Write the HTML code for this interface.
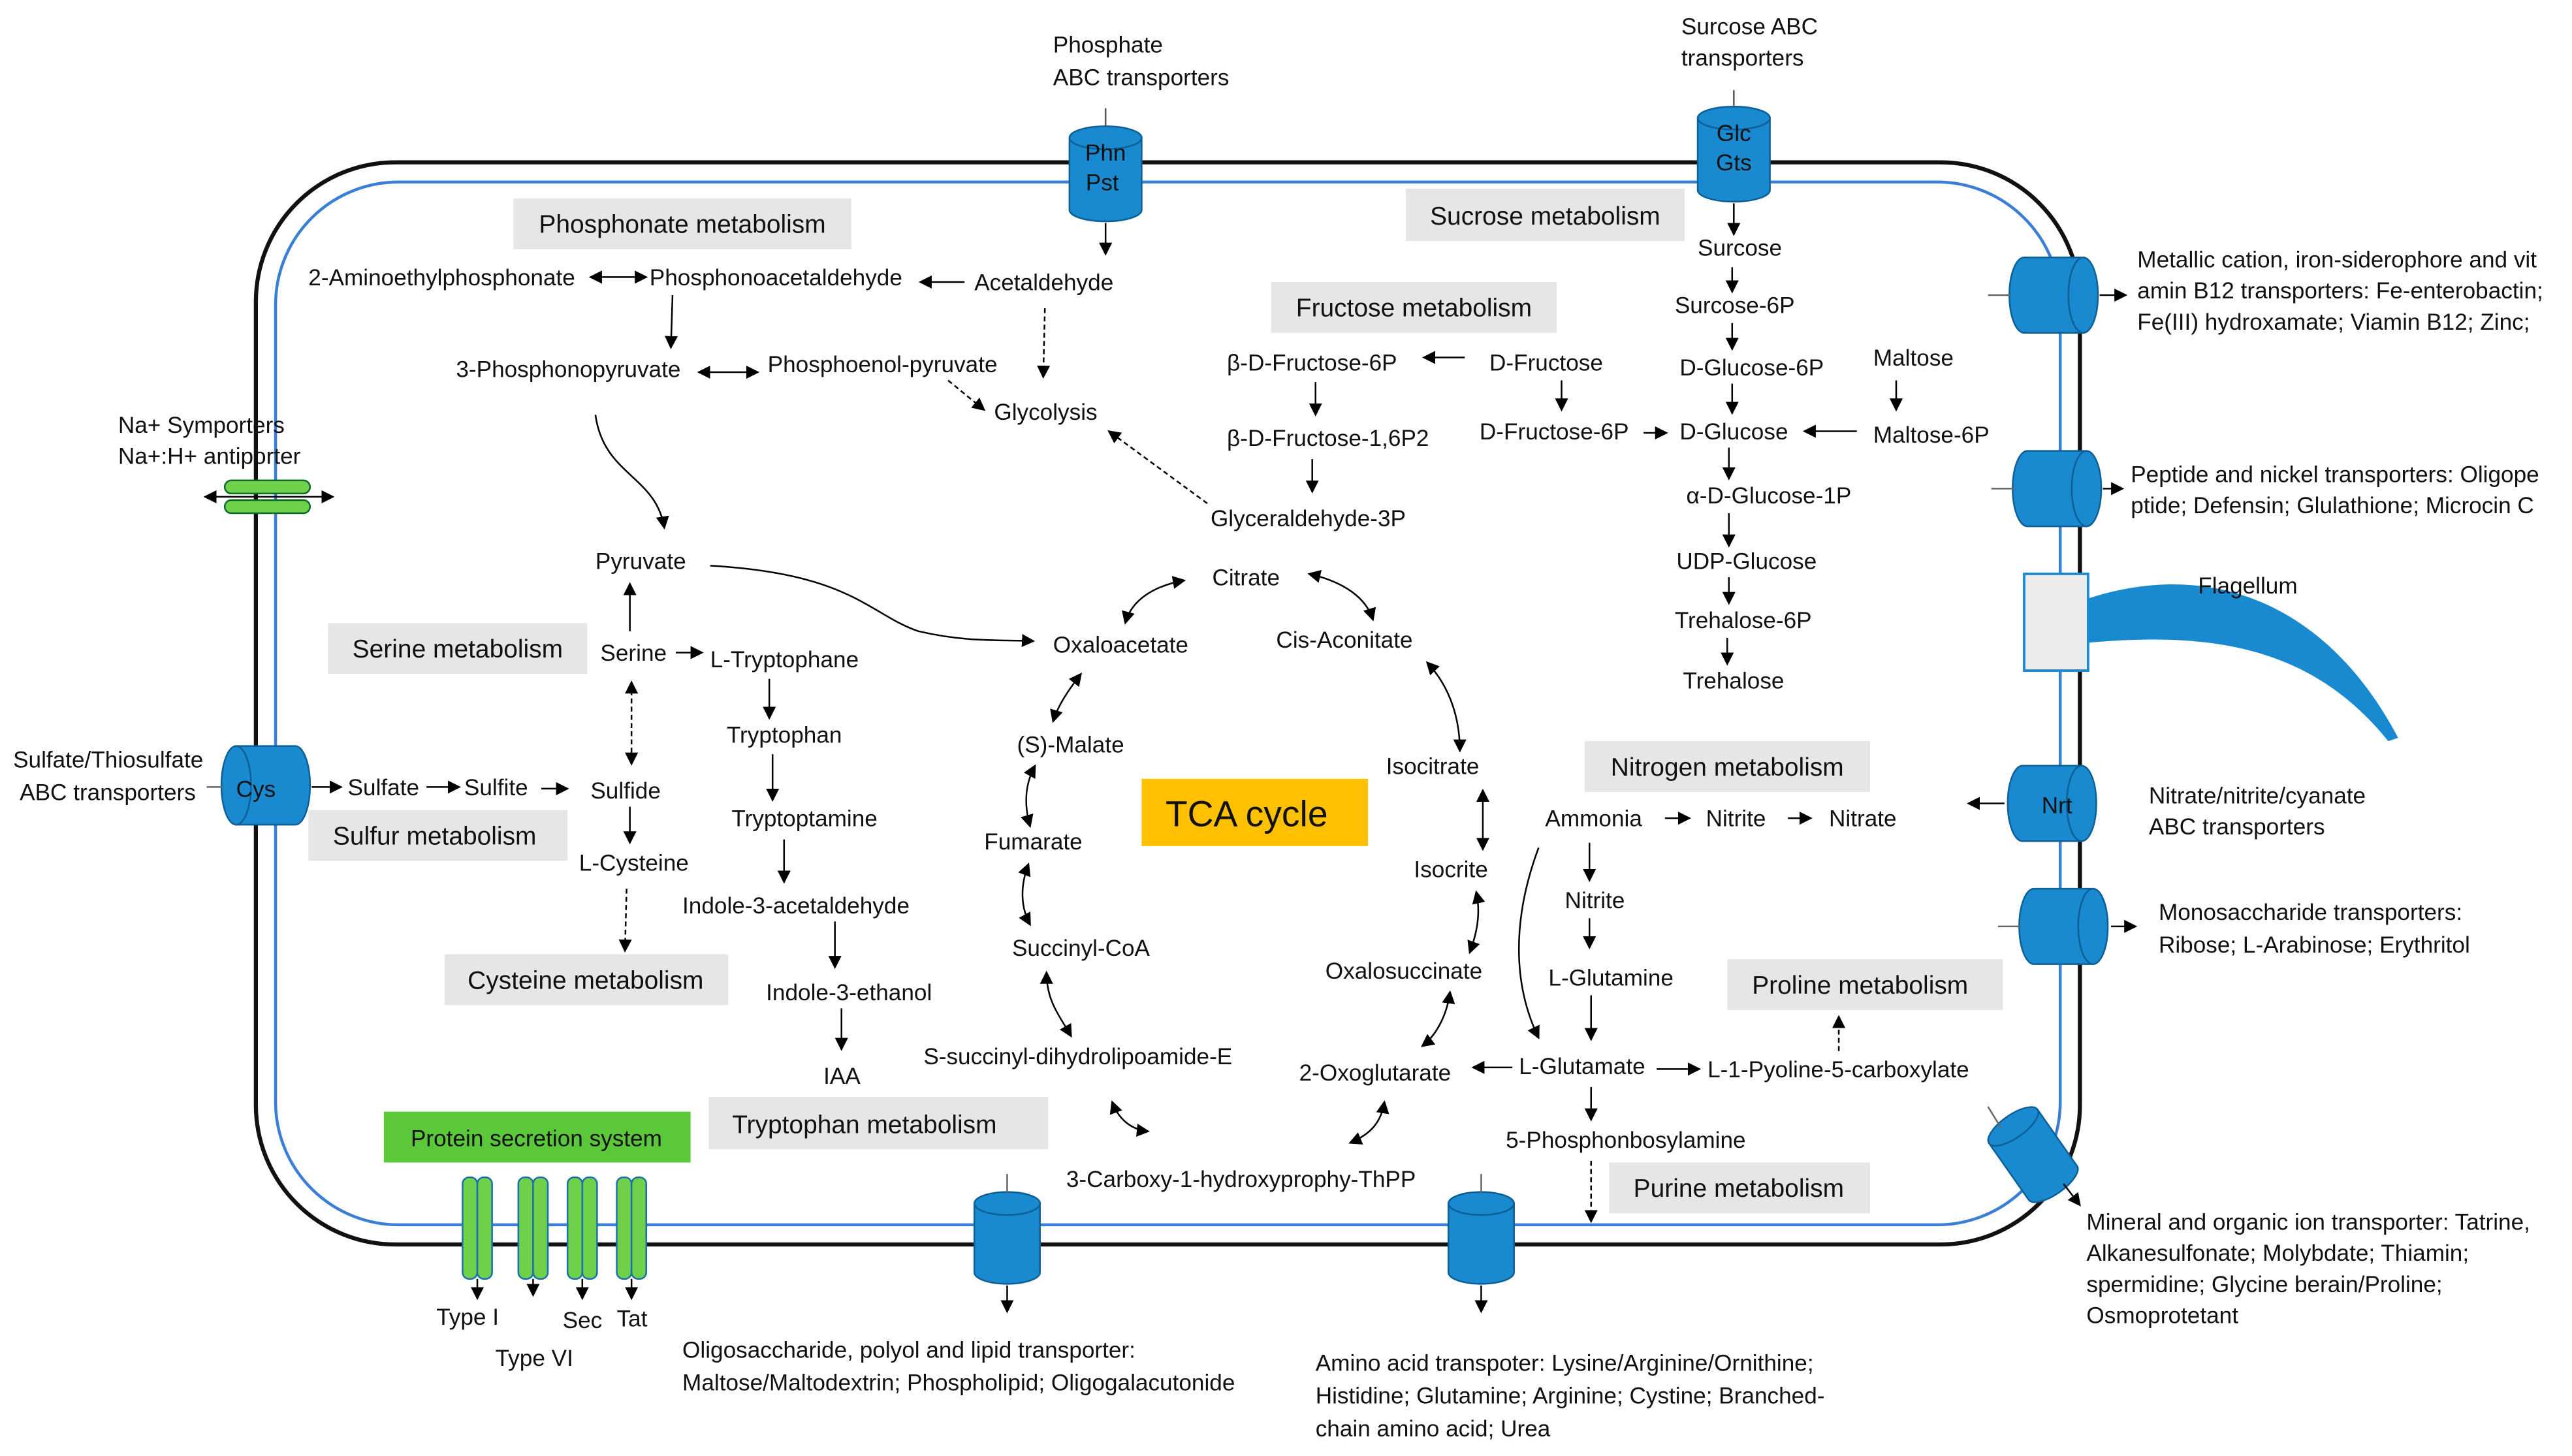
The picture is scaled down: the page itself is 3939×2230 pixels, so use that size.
<!DOCTYPE html>
<html><head><meta charset="utf-8"><style>
html,body{margin:0;padding:0;background:#fff}
svg{display:block}
text{font-family:"Liberation Sans",Arial,sans-serif;font-size:14px;fill:#111}
.b{font-size:15.5px}
</style></head><body>
<svg width="3939" height="2230" viewBox="0 0 1568 888" preserveAspectRatio="none" xmlns="http://www.w3.org/2000/svg">
<defs>
<marker id="a" markerWidth="8" markerHeight="8" refX="7" refY="4" orient="auto" markerUnits="userSpaceOnUse"><path d="M0,0 L8,4 L0,8 z" fill="#000"/></marker>
<marker id="s" markerWidth="8" markerHeight="8" refX="1" refY="4" orient="auto" markerUnits="userSpaceOnUse"><path d="M8,0 L0,4 L8,8 z" fill="#000"/></marker>
</defs>
<rect width="1568" height="888" fill="#fff"/>
<rect x="156" y="99" width="1112" height="660" rx="85" fill="none" stroke="#111" stroke-width="2.5"/>
<rect x="168" y="111" width="1088" height="636" rx="75" fill="none" stroke="#3a7fd5" stroke-width="1.8"/>

<g fill="#e6e6e6">
<rect x="313" y="121" width="206" height="31"/>
<rect x="857" y="115" width="170" height="32"/>
<rect x="775" y="172" width="174" height="31"/>
<rect x="200" y="380" width="158" height="31"/>
<rect x="188" y="494" width="158" height="31"/>
<rect x="271" y="582" width="173" height="31"/>
<rect x="432" y="669" width="207" height="32"/>
<rect x="966" y="452" width="174" height="31"/>
<rect x="1053" y="585" width="168" height="31"/>
<rect x="981" y="709" width="159" height="31"/>
</g>
<rect x="234" y="678" width="187" height="31" fill="#5bc83a"/>
<rect x="696" y="475" width="138" height="41" fill="#ffc000"/>
<g>
<text class="b" x="416" y="142" text-anchor="middle">Phosphonate metabolism</text>
<text class="b" x="942" y="137" text-anchor="middle">Sucrose metabolism</text>
<text class="b" x="862" y="193" text-anchor="middle">Fructose metabolism</text>
<text class="b" x="279" y="401" text-anchor="middle">Serine metabolism</text>
<text class="b" x="265" y="515" text-anchor="middle">Sulfur metabolism</text>
<text class="b" x="357" y="603" text-anchor="middle">Cysteine metabolism</text>
<text class="b" x="527" y="691" text-anchor="middle">Tryptophan metabolism</text>
<text class="b" x="1053" y="473" text-anchor="middle">Nitrogen metabolism</text>
<text class="b" x="1134" y="606" text-anchor="middle">Proline metabolism</text>
<text class="b" x="1060" y="730" text-anchor="middle">Purine metabolism</text>
<text x="327" y="699" text-anchor="middle" style="font-size:14px">Protein secretion system</text>
<text x="760" y="504" text-anchor="middle" style="font-size:22px">TCA cycle</text>
</g>

<g fill="#1a8ad0" stroke="#0d5f96" stroke-width="1">
<line x1="674" y1="66" x2="674" y2="80" stroke="#555"/>
<path d="M652,84 v44 a22,7 0 0 0 44,0 v-44 z"/><ellipse cx="674" cy="84" rx="22" ry="7"/>
<line x1="1057" y1="55" x2="1057" y2="68" stroke="#555"/>
<path d="M1035,72 v44 a22,7 0 0 0 44,0 v-44 z"/><ellipse cx="1057" cy="72" rx="22" ry="7"/>
<path d="M144,455 h36 a9,24 0 0 1 0,48 h-36 z"/><ellipse cx="144" cy="479" rx="9" ry="24"/>
<!-- right side: oval at right end -->
<path d="M1270,157 h-36 a9,23 0 0 0 0,46 h36 z"/><ellipse cx="1270" cy="180" rx="9" ry="23"/>
<path d="M1272,275 h-36 a9,23 0 0 0 0,46 h36 z"/><ellipse cx="1272" cy="298" rx="9" ry="23"/>
<path d="M1269,467 h-36 a9,23 0 0 0 0,46 h36 z"/><ellipse cx="1269" cy="490" rx="9" ry="23"/>
<path d="M1276,542 h-36 a9,23 0 0 0 0,46 h36 z"/><ellipse cx="1276" cy="565" rx="9" ry="23"/>
<path d="M594,734 v42 a20,7 0 0 0 40,0 v-42 z"/><ellipse cx="614" cy="734" rx="20" ry="7"/>
<path d="M883,734 v42 a20,7 0 0 0 40,0 v-42 z"/><ellipse cx="903" cy="734" rx="20" ry="7"/>
<g transform="rotate(-35 1240 705)"><path d="M1222,683 v42 a18,7 0 0 0 36,0 v-42 z"/><ellipse cx="1240" cy="683" rx="18" ry="7"/></g>
</g>
<text x="674" y="98" text-anchor="middle">Phn</text><text x="672" y="116" text-anchor="middle">Pst</text>
<text x="1057" y="86" text-anchor="middle">Glc</text><text x="1057" y="104" text-anchor="middle">Gts</text>
<text x="156" y="486" text-anchor="middle">Cys</text>
<text x="1254" y="496" text-anchor="middle">Nrt</text>
<rect x="1234" y="350" width="39" height="59" fill="#ececec" stroke="#1a8ad0" stroke-width="1.5"/>
<path d="M1273,365 C1350,340 1420,370 1462,450 L1456,452 C1410,395 1350,385 1273,392 z" fill="#1a8ad0"/>
<text x="1340" y="362">Flagellum</text>
<g stroke="#000" stroke-width="1" fill="none">
<line x1="1212" y1="180" x2="1226" y2="180" stroke="#666"/><line x1="1280" y1="180" x2="1296" y2="180" marker-end="url(#a)"/>
<line x1="1214" y1="298" x2="1228" y2="298" stroke="#666"/><line x1="1282" y1="298" x2="1294" y2="298" marker-end="url(#a)"/>
<line x1="1222" y1="490" x2="1200" y2="490" marker-end="url(#a)"/>
<line x1="1218" y1="565" x2="1232" y2="565" stroke="#666"/><line x1="1287" y1="565" x2="1302" y2="565" marker-end="url(#a)"/>
<line x1="1212" y1="675" x2="1220" y2="688" stroke="#666"/><line x1="1258" y1="722" x2="1268" y2="735" marker-end="url(#a)"/>
<line x1="614" y1="716" x2="614" y2="728" stroke="#666"/><line x1="614" y1="784" x2="614" y2="800" marker-end="url(#a)"/>
<line x1="903" y1="716" x2="903" y2="728" stroke="#666"/><line x1="903" y1="784" x2="903" y2="800" marker-end="url(#a)"/>
<line x1="674" y1="136" x2="674" y2="155" marker-end="url(#a)"/>
<line x1="1057" y1="124" x2="1057" y2="143" marker-end="url(#a)"/>
<line x1="126" y1="480" x2="136" y2="480" stroke="#666"/><line x1="190" y1="480" x2="208" y2="480" marker-end="url(#a)"/>
</g>
<g stroke="#0d6b2a" stroke-width="1" fill="#6fd04a">
<rect x="137" y="293" width="52" height="8" rx="4"/><rect x="137" y="305" width="52" height="8" rx="4"/>
</g>
<line x1="125" y1="303" x2="203" y2="303" stroke="#000" marker-start="url(#s)" marker-end="url(#a)"/>
<text x="72" y="264">Na+ Symporters</text><text x="72" y="283">Na+:H+ antiporter</text>
<g stroke="#1a6fb0" stroke-width="1" fill="#6fd04a">
<rect x="282" y="718" width="9" height="62" rx="4"/><rect x="291" y="718" width="9" height="62" rx="4"/>
<rect x="316" y="718" width="9" height="62" rx="4"/><rect x="325" y="718" width="9" height="62" rx="4"/>
<rect x="346" y="718" width="9" height="62" rx="4"/><rect x="355" y="718" width="9" height="62" rx="4"/>
<rect x="376" y="718" width="9" height="62" rx="4"/><rect x="385" y="718" width="9" height="62" rx="4"/>
</g>
<g stroke="#000" fill="none">
<line x1="291" y1="780" x2="291" y2="792" marker-end="url(#a)"/><line x1="325" y1="780" x2="325" y2="790" marker-end="url(#a)"/>
<line x1="355" y1="780" x2="355" y2="792" marker-end="url(#a)"/><line x1="385" y1="780" x2="385" y2="792" marker-end="url(#a)"/>
</g>
<text x="266" y="808">Type I</text><text x="302" y="833">Type VI</text><text x="343" y="810">Sec</text><text x="376" y="809">Tat</text>

<text x="642" y="32">Phosphate</text><text x="642" y="52">ABC transporters</text>
<text x="1025" y="21">Surcose ABC</text><text x="1025" y="40">transporters</text>
<text x="1303" y="163">Metallic cation, iron-siderophore and vit</text>
<text x="1303" y="182">amin B12 transporters: Fe-enterobactin;</text>
<text x="1303" y="201">Fe(III) hydroxamate; Viamin B12; Zinc;</text>
<text x="1299" y="294">Peptide and nickel transporters: Oligope</text>
<text x="1299" y="313">ptide; Defensin; Glulathione;  Microcin C</text>
<text x="1310" y="490">Nitrate/nitrite/cyanate</text><text x="1310" y="509">ABC transporters</text>
<text x="1316" y="561">Monosaccharide transporters:</text><text x="1316" y="581">Ribose; L-Arabinose; Erythritol</text>
<text x="1272" y="750">Mineral and organic ion transporter: Tatrine,</text>
<text x="1272" y="769">Alkanesulfonate; Molybdate; Thiamin;</text>
<text x="1272" y="788">spermidine; Glycine berain/Proline;</text>
<text x="1272" y="807">Osmoprotetant</text>
<text x="416" y="828">Oligosaccharide, polyol and lipid transporter:</text>
<text x="416" y="848">Maltose/Maltodextrin; Phospholipid; Oligogalacutonide</text>
<text x="802" y="836">Amino acid transpoter: Lysine/Arginine/Ornithine;</text>
<text x="802" y="856">Histidine; Glutamine; Arginine; Cystine; Branched-</text>
<text x="802" y="876">chain amino acid; Urea</text>
<text x="8" y="468">Sulfate/Thiosulfate</text><text x="12" y="488">ABC transporters</text>

<text x="188" y="174">2-Aminoethylphosphonate</text>
<text x="396" y="174">Phosphonoacetaldehyde</text>
<text x="594" y="177">Acetaldehyde</text>
<text x="278" y="230">3-Phosphonopyruvate</text>
<text x="468" y="227">Phosphoenol-pyruvate</text>
<text x="606" y="256">Glycolysis</text>
<text x="748" y="226">β-D-Fructose-6P</text>
<text x="908" y="226">D-Fructose</text>
<text x="748" y="272">β-D-Fructose-1,6P2</text>
<text x="902" y="268">D-Fructose-6P</text>
<text x="738" y="321">Glyceraldehyde-3P</text>
<text x="1035" y="156">Surcose</text>
<text x="1021" y="191">Surcose-6P</text>
<text x="1024" y="229">D-Glucose-6P</text>
<text x="1142" y="223">Maltose</text>
<text x="1024" y="268">D-Glucose</text>
<text x="1142" y="270">Maltose-6P</text>
<text x="1028" y="307">α-D-Glucose-1P</text>
<text x="1022" y="347">UDP-Glucose</text>
<text x="1021" y="383">Trehalose-6P</text>
<text x="1026" y="420">Trehalose</text>
<text x="363" y="347">Pyruvate</text>
<text x="739" y="357">Citrate</text>
<text x="642" y="398">Oxaloacetate</text>
<text x="778" y="395">Cis-Aconitate</text>
<text x="366" y="403">Serine</text>
<text x="433" y="407">L-Tryptophane</text>
<text x="443" y="453">Tryptophan</text>
<text x="620" y="459">(S)-Malate</text>
<text x="845" y="472">Isocitrate</text>
<text x="212" y="485">Sulfate</text><text x="283" y="485">Sulfite</text><text x="360" y="487">Sulfide</text>
<text x="446" y="504">Tryptoptamine</text>
<text x="600" y="518">Fumarate</text>
<text x="942" y="504">Ammonia</text><text x="1040" y="504">Nitrite</text><text x="1115" y="504">Nitrate</text>
<text x="353" y="531">L-Cysteine</text>
<text x="862" y="535">Isocrite</text>
<text x="954" y="554">Nitrite</text>
<text x="416" y="557">Indole-3-acetaldehyde</text>
<text x="617" y="583">Succinyl-CoA</text>
<text x="808" y="597">Oxalosuccinate</text>
<text x="944" y="601">L-Glutamine</text>
<text x="467" y="610">Indole-3-ethanol</text>
<text x="563" y="649">S-succinyl-dihydrolipoamide-E</text>
<text x="502" y="661">IAA</text>
<text x="792" y="659">2-Oxoglutarate</text>
<text x="926" y="655">L-Glutamate</text>
<text x="1041" y="657">L-1-Pyoline-5-carboxylate</text>
<text x="918" y="700">5-Phosphonbosylamine</text>
<text x="650" y="724">3-Carboxy-1-hydroxyprophy-ThPP</text>

<g stroke="#000" stroke-width="1" fill="none">
<line x1="360" y1="169" x2="394" y2="169" marker-start="url(#s)" marker-end="url(#a)"/>
<line x1="588" y1="172" x2="561" y2="172" marker-end="url(#a)"/>
<line x1="410" y1="180" x2="409" y2="212" marker-end="url(#a)"/>
<line x1="426" y1="227" x2="462" y2="227" marker-start="url(#s)" marker-end="url(#a)"/>
<line x1="637" y1="188" x2="636" y2="230" stroke-dasharray="3,2" marker-end="url(#a)"/>
<line x1="578" y1="232" x2="600" y2="250" stroke-dasharray="3,2" marker-end="url(#a)"/>
<line x1="736" y1="307" x2="676" y2="263" stroke-dasharray="3,2" marker-end="url(#a)"/>
<line x1="893" y1="218" x2="868" y2="218" marker-end="url(#a)"/>
<line x1="802" y1="233" x2="802" y2="253" marker-end="url(#a)"/>
<line x1="800" y1="280" x2="800" y2="300" marker-end="url(#a)"/>
<line x1="952" y1="232" x2="952" y2="250" marker-end="url(#a)"/>
<line x1="1002" y1="264" x2="1016" y2="264" marker-end="url(#a)"/>
<line x1="1056" y1="163" x2="1056" y2="178" marker-end="url(#a)"/>
<line x1="1056" y1="197" x2="1056" y2="213" marker-end="url(#a)"/>
<line x1="1056" y1="234" x2="1056" y2="252" marker-end="url(#a)"/>
<line x1="1156" y1="232" x2="1156" y2="250" marker-end="url(#a)"/>
<line x1="1132" y1="263" x2="1100" y2="263" marker-end="url(#a)"/>
<line x1="1054" y1="273" x2="1054" y2="292" marker-end="url(#a)"/>
<line x1="1054" y1="313" x2="1054" y2="333" marker-end="url(#a)"/>
<line x1="1054" y1="352" x2="1054" y2="368" marker-end="url(#a)"/>
<line x1="1053" y1="389" x2="1053" y2="405" marker-end="url(#a)"/>
<path d="M363,253 C368,290 400,290 405,322" marker-end="url(#a)"/>
<path d="M433,345 C520,350 530,375 560,385 C590,392 610,390 630,391" marker-end="url(#a)"/>
<line x1="384" y1="385" x2="384" y2="356" marker-end="url(#a)"/>
<line x1="412" y1="398" x2="428" y2="398" marker-end="url(#a)"/>
<line x1="385" y1="416" x2="385" y2="466" stroke-dasharray="3,2" marker-start="url(#s)" marker-end="url(#a)"/>
<line x1="384" y1="492" x2="384" y2="514" marker-end="url(#a)"/>
<line x1="382" y1="542" x2="381" y2="580" stroke-dasharray="3,2" marker-end="url(#a)"/>
<line x1="260" y1="480" x2="280" y2="480" marker-end="url(#a)"/>
<line x1="330" y1="481" x2="346" y2="481" marker-end="url(#a)"/>
<line x1="469" y1="414" x2="469" y2="438" marker-end="url(#a)"/>
<line x1="471" y1="460" x2="471" y2="488" marker-end="url(#a)"/>
<line x1="478" y1="512" x2="478" y2="538" marker-end="url(#a)"/>
<line x1="509" y1="562" x2="509" y2="590" marker-end="url(#a)"/>
<line x1="513" y1="615" x2="513" y2="640" marker-end="url(#a)"/>
<path d="M686,380 C690,365 705,357 722,354" marker-start="url(#s)" marker-end="url(#a)"/>
<path d="M798,350 C820,355 833,365 837,378" marker-start="url(#s)" marker-end="url(#a)"/>
<path d="M870,404 C885,420 890,440 890,458" marker-start="url(#s)" marker-end="url(#a)"/>
<line x1="904" y1="482" x2="904" y2="518" marker-start="url(#s)" marker-end="url(#a)"/>
<path d="M900,544 C903,558 900,570 896,581" marker-start="url(#s)" marker-end="url(#a)"/>
<path d="M884,605 C882,620 875,632 867,638" marker-start="url(#s)" marker-end="url(#a)"/>
<path d="M844,672 C842,685 835,692 823,697" marker-start="url(#s)" marker-end="url(#a)"/>
<path d="M678,672 C682,683 690,689 700,690" marker-start="url(#s)" marker-end="url(#a)"/>
<path d="M638,593 C638,610 645,618 653,632" marker-start="url(#s)" marker-end="url(#a)"/>
<path d="M627,527 C622,540 622,553 628,564" marker-start="url(#s)" marker-end="url(#a)"/>
<path d="M631,467 C625,478 624,490 628,504" marker-start="url(#s)" marker-end="url(#a)"/>
<path d="M659,411 C652,420 645,430 642,440" marker-start="url(#s)" marker-end="url(#a)"/>
<line x1="1015" y1="499" x2="1030" y2="499" marker-end="url(#a)"/>
<line x1="1090" y1="499" x2="1104" y2="499" marker-end="url(#a)"/>
<line x1="969" y1="514" x2="969" y2="537" marker-end="url(#a)"/>
<line x1="969" y1="560" x2="969" y2="578" marker-end="url(#a)"/>
<line x1="970" y1="607" x2="970" y2="634" marker-end="url(#a)"/>
<line x1="922" y1="651" x2="898" y2="651" marker-end="url(#a)"/>
<line x1="1010" y1="652" x2="1036" y2="652" marker-end="url(#a)"/>
<line x1="1121" y1="641" x2="1121" y2="620" stroke-dasharray="3,2" marker-end="url(#a)"/>
<line x1="970" y1="663" x2="970" y2="683" marker-end="url(#a)"/>
<line x1="970" y1="708" x2="970" y2="745" stroke-dasharray="3,2" marker-end="url(#a)"/>
<path d="M938,517 C922,560 922,600 938,633" marker-end="url(#a)"/>
</g>
</svg>
</body></html>
